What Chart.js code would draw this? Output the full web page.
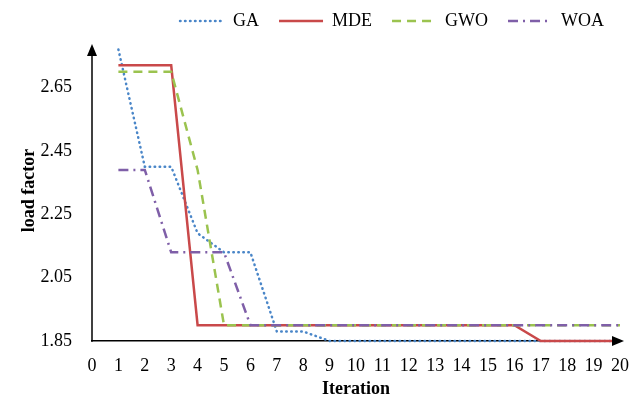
<!DOCTYPE html>
<html lang="en">

<head>
  <meta charset="UTF-8">
  <title>Load factor vs iteration</title>
  <script src="https://cdn.jsdelivr.net/npm/chart.js"></script>
  <style>
    body {
      margin: 0;
      background-color: #fff;
    }

    #chart-box {
      width: 633px;
      height: 400px;
    }
  </style>
</head>

<body>
  <div id="chart-box">
    <canvas id="load-chart"></canvas>
  </div>

  <script>
    const iterations = [1, 2, 3, 4, 5, 6, 7, 8, 9, 10, 11, 12, 13, 14, 15, 16, 17, 18, 19, 20];
    const gaValues = [2.77, 2.40, 2.40, 2.19, 2.13, 2.13, 1.88, 1.88, 1.85, 1.85, 1.85, 1.85, 1.85, 1.85, 1.85, 1.85, 1.85, 1.85, 1.85, 1.85];
    const mdeValues = [2.72, 2.72, 2.72, 1.90, 1.90, 1.90, 1.90, 1.90, 1.90, 1.90, 1.90, 1.90, 1.90, 1.90, 1.90, 1.90, 1.85, 1.85, 1.85, 1.85];
    const gwoValues = [2.70, 2.70, 2.70, 2.39, 1.90, 1.90, 1.90, 1.90, 1.90, 1.90, 1.90, 1.90, 1.90, 1.90, 1.90, 1.90, 1.90, 1.90, 1.90, 1.90];
    const woaValues = [2.39, 2.39, 2.13, 2.13, 2.13, 1.90, 1.90, 1.90, 1.90, 1.90, 1.90, 1.90, 1.90, 1.90, 1.90, 1.90, 1.90, 1.90, 1.90, 1.90];
    const yTicks = [1.85, 2.05, 2.25, 2.45, 2.65];

    const serif = "'Liberation Serif', 'Times New Roman', serif";

    function toPoints(values) {
      return values.map((v, i) => ({ x: iterations[i], y: v }));
    }

    // axis line for y (so it can stop at the arrow tip) and arrow heads on both axes
    const axisArrows = {
      id: 'axisArrows',
      afterDraw(chart) {
        const ctx = chart.ctx;
        const xs = chart.scales.x;
        const ys = chart.scales.y;
        const tipY = ys.top + 4;
        ctx.save();
        ctx.strokeStyle = '#000';
        ctx.lineWidth = 1.5;
        ctx.beginPath();
        ctx.moveTo(xs.left, ys.bottom + 0.75);
        ctx.lineTo(xs.left, tipY + 6);
        ctx.stroke();
        ctx.fillStyle = '#000';
        // x axis, pointing right
        ctx.beginPath();
        ctx.moveTo(xs.right + 4, ys.bottom);
        ctx.lineTo(xs.right - 8, ys.bottom - 5);
        ctx.lineTo(xs.right - 8, ys.bottom + 5);
        ctx.closePath();
        ctx.fill();
        // y axis, pointing up
        ctx.beginPath();
        ctx.moveTo(xs.left, tipY);
        ctx.lineTo(xs.left - 5, tipY + 12);
        ctx.lineTo(xs.left + 5, tipY + 12);
        ctx.closePath();
        ctx.fill();
        ctx.restore();
      }
    };

    new Chart(document.getElementById('load-chart'), {
      type: 'line',
      data: {
        datasets: [{
          label: 'GA',
          data: toPoints(gaValues),
          borderColor: '#4a86c8',
          borderWidth: 2.5,
          borderDash: [0.5, 4.5],
          borderCapStyle: 'round',
          order: 4
        }, {
          label: 'MDE',
          data: toPoints(mdeValues),
          borderColor: '#c9494a',
          borderWidth: 2.5,
          order: 3
        }, {
          label: 'GWO',
          data: toPoints(gwoValues),
          borderColor: '#9bc34f',
          borderWidth: 2.5,
          borderDash: [9, 6],
          order: 2
        }, {
          label: 'WOA',
          data: toPoints(woaValues),
          borderColor: '#7f5fa8',
          borderWidth: 2.5,
          borderDash: [10, 5, 2, 5],
          order: 1
        }]
      },
      options: {
        responsive: true,
        maintainAspectRatio: false,
        animation: false,
        clip: false,
        elements: {
          point: { radius: 0 },
          line: { tension: 0 }
        },
        layout: {
          padding: { top: -8, right: 9, bottom: 0, left: 15 }
        },
        plugins: {
          tooltip: { enabled: false },
          legend: {
            position: 'top',
            align: 'end',
            labels: {
              usePointStyle: true,
              pointStyle: 'line',
              pointStyleWidth: 44,
              padding: 20,
              color: '#000',
              font: { family: serif, size: 18 },
              sort: (a, b) => a.datasetIndex - b.datasetIndex,
              generateLabels: (chart) => {
                const items = Chart.defaults.plugins.legend.labels.generateLabels(chart);
                items.forEach(item => {
                  const ds = chart.data.datasets[item.datasetIndex];
                  item.lineDash = ds.borderDash || [];
                  item.lineCap = ds.borderCapStyle || 'butt';
                  item.lineWidth = ds.borderWidth;
                  item.strokeStyle = ds.borderColor;
                });
                return items;
              }
            }
          }
        },
        scales: {
          x: {
            type: 'linear',
            min: 0,
            max: 20,
            afterFit: (scale) => {
              scale.height = 59;
              scale.paddingRight = 13;
            },
            grid: { display: false, drawTicks: false },
            border: { display: true, color: '#000', width: 1.5 },
            ticks: {
              stepSize: 1,
              padding: 14,
              color: '#000',
              font: { family: serif, size: 18 }
            },
            title: {
              display: true,
              text: 'Iteration',
              color: '#000',
              padding: { top: 0, bottom: 0 },
              font: { family: serif, size: 18, weight: 'bold' }
            }
          },
          y: {
            type: 'linear',
            min: 1.85,
            max: 2.80,
            afterFit: (scale) => { scale.width = 77; },
            grid: { display: false, drawTicks: false },
            border: { display: false },
            afterBuildTicks: (scale) => {
              scale.ticks = yTicks.map(v => ({ value: v }));
            },
            ticks: {
              padding: 20,
              color: '#000',
              font: { family: serif, size: 18 },
              callback: (v) => Number(v).toFixed(2)
            },
            title: {
              display: true,
              text: 'load factor',
              color: '#000',
              padding: { top: 4, bottom: 4 },
              font: { family: serif, size: 18, weight: 'bold' }
            }
          }
        }
      },
      plugins: [axisArrows]
    });
  </script>
</body>

</html>
